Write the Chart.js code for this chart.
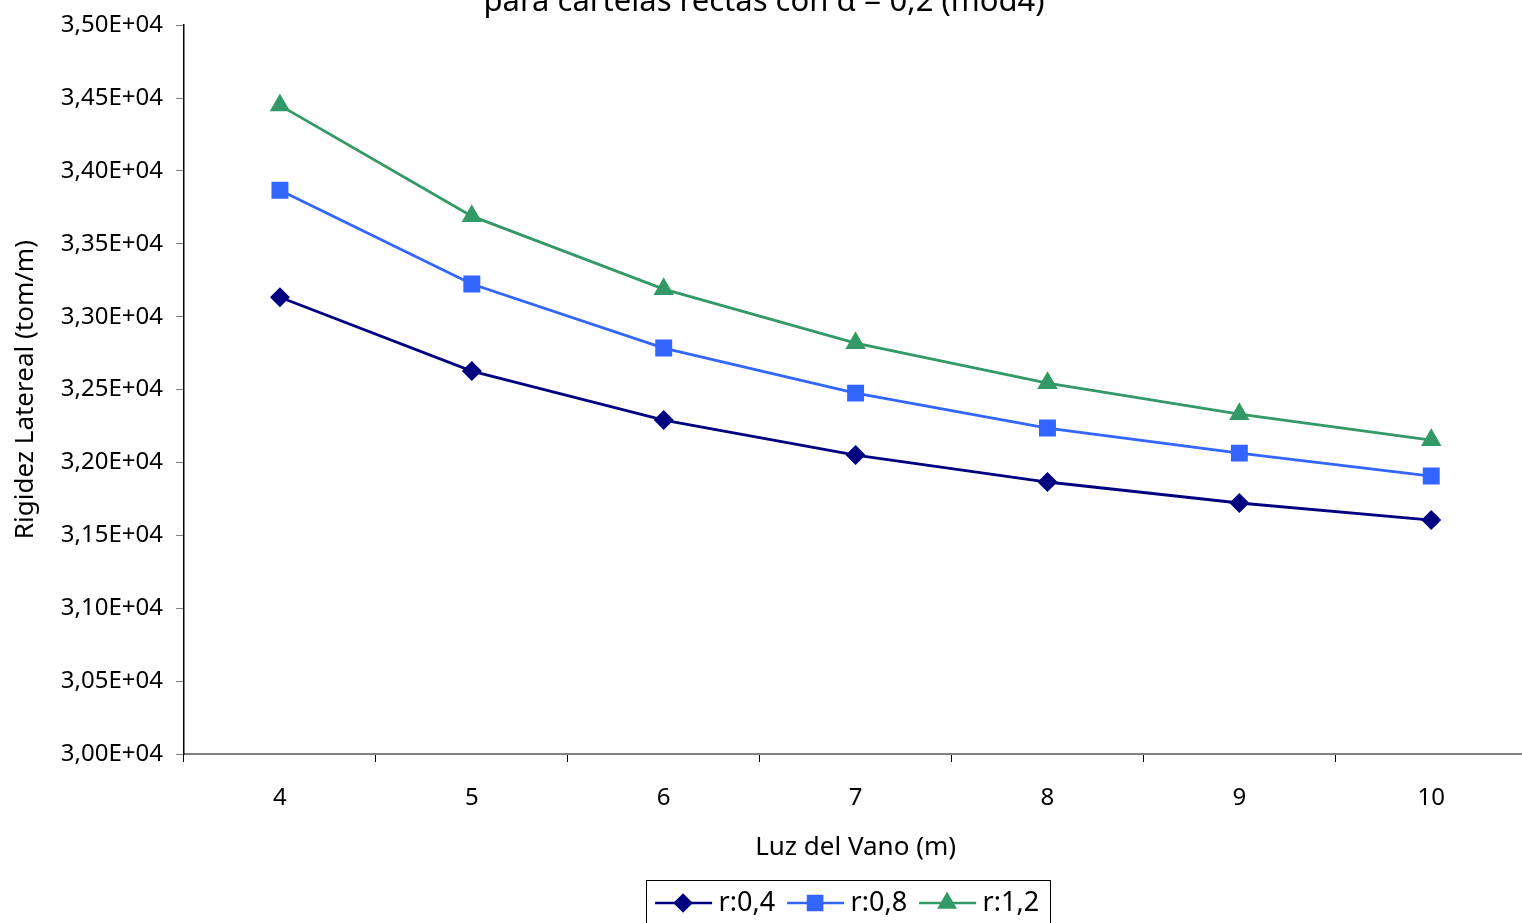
<!DOCTYPE html>
<html>
<head>
<meta charset="utf-8">
<script src="https://cdn.jsdelivr.net/npm/chart.js@4.4.1/dist/chart.umd.min.js"></script>
<style>
  html, body { margin:0; padding:0; background:#fff; overflow:hidden; width:1522px; height:923px; }
  #wrap { position:absolute; left:0; top:-40px; width:1540px; height:970px; }
</style>
</head>
<body>
<div id="wrap"><canvas id="chart" width="1540" height="970"></canvas></div>
<script>
// datos
const luz   = ['4', '5', '6', '7', '8', '9', '10'];
const r04   = [33134, 32627, 32291, 32051, 31866, 31722, 31605];
const r08   = [33868, 33224, 32785, 32476, 32236, 32064, 31907];
const r12   = [34450, 33690, 33189, 32819, 32545, 32332, 32154];
const nombres = ['r:0,4', 'r:0,8', 'r:1,2'];
const yMin = 30000, yMax = 35000, yPaso = 500;

const FONT = "'Noto Sans', 'DejaVu Sans', sans-serif";

function fmtE(v) {
  // 34500 -> 3,45E+04
  const [m, e] = v.toExponential(2).split('e');
  const n = parseInt(e, 10);
  return m.replace('.', ',') + 'E' + (n < 0 ? '-' : '+') + String(Math.abs(n)).padStart(2, '0');
}

// leyenda: linea + marcador y marco
const legendMarks = {
  id: 'legendMarks',
  afterLayout(chart) {
    chart.legend.left -= 17;
  },
  afterDraw(chart) {
    const lg = chart.legend;
    const boxes = lg.legendHitBoxes;
    if (!boxes || !boxes.length) return;
    const ctx = chart.ctx;
    ctx.save();
    boxes.forEach((b, i) => {
      const ds = chart.data.datasets[i];
      const cy = b.top + b.height / 2;
      ctx.strokeStyle = ds.borderColor;
      ctx.lineWidth = 2.5;
      ctx.beginPath();
      ctx.moveTo(b.left, cy);
      ctx.lineTo(b.left + 57, cy);
      ctx.stroke();
      Chart.helpers.drawPoint(ctx, {
        pointStyle: ds.pointStyle, radius: ds.pointRadius, rotation: 0, borderWidth: 1
      }, b.left + 28, cy);
      ctx.fillStyle = ds.pointBackgroundColor;
      ctx.fill();
    });
    const first = boxes[0], last = boxes[boxes.length - 1];
    ctx.strokeStyle = '#000';
    ctx.lineWidth = 1;
    ctx.strokeRect(Math.round(first.left - 9) + 0.5, 920.5, Math.round(last.left + last.width + 11 - first.left + 9), 60);
    ctx.restore();
  }
};

new Chart(document.getElementById('chart').getContext('2d'), {
  type: 'line',
  data: {
    labels: luz,
    datasets: [
      { label: nombres[0], data: r04, borderColor:'#000080', backgroundColor:'#000080', pointBackgroundColor:'#000080', pointBorderColor:'#000080', pointStyle:'rectRot', pointRadius:8, borderWidth:2.8 },
      { label: nombres[1], data: r08, borderColor:'#3366FF', backgroundColor:'#3366FF', pointBackgroundColor:'#3366FF', pointBorderColor:'#3366FF', pointStyle:'rect', pointRadius:10, borderWidth:2.8 },
      { label: nombres[2], data: r12, borderColor:'#339966', backgroundColor:'#339966', pointBackgroundColor:'#339966', pointBorderColor:'#339966', pointStyle:'triangle', pointRadius:9, borderWidth:2.8 },
    ],
  },
  options: {
    responsive: false,
    animation: false,
    layout: { padding: { left: 0, right: 12, top: 0, bottom: 3.5 } },
    plugins: {
      title: {
        display: true,
        text: 'para cartelas rectas con α = 0,2 (mod4)',
        color: '#000',
        font: { family: FONT, size: 31, weight: 'normal' },
        padding: { top: 24, bottom: 4 },
      },
      legend: {
        position: 'bottom',
        fullSize: false,
        labels: {
          color: '#000',
          font: { family: FONT, size: 27 },
          boxWidth: 50,
          boxHeight: 27,
          padding: 12,
          generateLabels: (chart) => chart.data.datasets.map((ds, i) => ({
            text: ds.label, datasetIndex: i,
            fillStyle: 'rgba(0,0,0,0)', strokeStyle: 'rgba(0,0,0,0)', lineWidth: 0,
          })),
        },
      },
      tooltip: { enabled: false },
    },
    scales: {
      x: {
        offset: true,
        grid: { offset: true, drawOnChartArea: false, color: '#000', tickLength: 8, tickColor: '#000' },
        border: { color: '#808080', width: 2 },
        ticks: { color: '#000', font: { family: FONT, size: 24 }, padding: 22, maxRotation: 0 },
        title: { display: true, text: 'Luz del Vano (m)', color: '#000', font: { family: FONT, size: 26 }, padding: { top: 0, bottom: 14 } },
        afterFit(s) { s.height = 123.5; },
      },
      y: {
        min: yMin, max: yMax,
        grid: { drawOnChartArea: false, tickLength: 8, tickColor: '#808080' },
        border: { color: '#000', width: 1.5 },
        ticks: { stepSize: yPaso, color: '#000', font: { family: FONT, size: 24 }, padding: 13, callback: (v) => fmtE(v) },
        title: { display: true, text: 'Rigidez Latereal (tom/m)', color: '#000', font: { family: FONT, size: 26 }, padding: { top: 9.5, bottom: 0 } },
        afterFit(s) { s.width = 184; },
      },
    },
  },
  plugins: [legendMarks],
});
</script>
</body>
</html>
